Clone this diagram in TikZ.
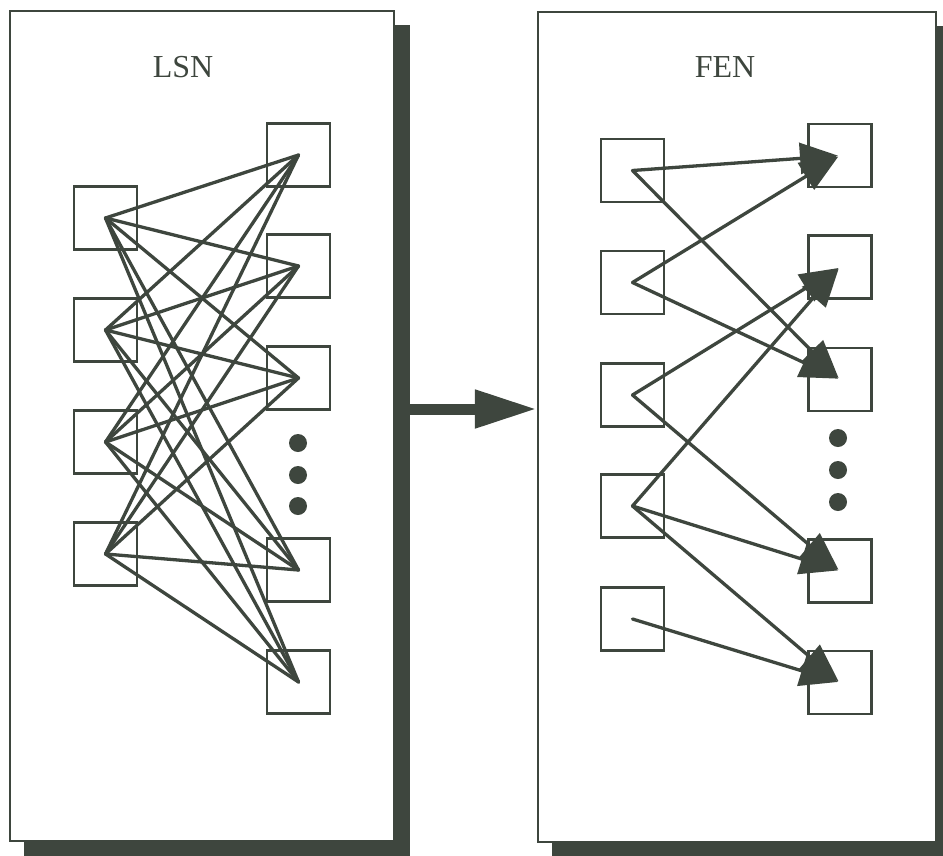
\documentclass[tikz,border=0pt]{standalone}
\usepackage{fontspec}
\setmainfont{Liberation Serif}
\usetikzlibrary{arrows.meta}
\definecolor{ink}{RGB}{62,70,62}
\begin{document}
\begin{tikzpicture}[x=1pt,y=-1pt,
  panel/.style={draw=ink,line width=2.2pt,fill=white,minimum width=#1,
    minimum height=830pt,inner sep=0pt},
  panelshadow/.style={fill=ink,minimum width=#1,minimum height=832pt,inner sep=0pt},
  title/.style={text=ink,font=\fontsize{32}{32}\selectfont,inner sep=0pt},
  cell/.style={draw=ink,line width=2.4pt,minimum size=63pt,inner sep=0pt},
  dot/.style={fill=ink,circle,minimum size=18pt,inner sep=0pt},
  link/.style={draw=ink,line width=3.3pt,line cap=round,line join=round},
  flow/.style={link,shorten >=2pt,-{Triangle[length=38pt,width=31pt]}},
  bigarrow/.style={draw=ink,line width=11pt,-{Triangle[length=62pt,width=36pt]}}
]
\useasboundingbox (0,0) rectangle (943,855);

% panels with their offset shadows
\node[panelshadow=386pt] (lsnshadow) at (217,441) {};
\node[panel=384pt] (lsnpanel) at (202,426) {};
\node[panelshadow=400pt] (fenshadow) at (752,442) {};
\node[panel=398pt] (fenpanel) at (737,427) {};

\node[title] (lsntitle) at (183,67) {LSN};
\node[title] (fentitle) at (725,67) {FEN};

% LSN: four sources fully connected to five targets
\foreach \i/\y in {1/218,2/330,3/442,4/554}
  \node[cell] (ls\i) at (105.5,\y) {};
\foreach \j/\y in {1/155,2/266,3/378,4/570,5/682}
  \node[cell] (lt\j) at (298.5,\y) {};
\foreach \y [count=\k] in {443,475,506}
  \node[dot] (ldot\k) at (298,\y) {};
\foreach \i in {1,...,4}
  \foreach \j in {1,...,5}
    \draw[link] (ls\i.center) -- (lt\j.center);

% FEN: sparse directed connections
\foreach \i/\y in {1/170.5,2/282.5,3/395,4/506,5/619}
  \node[cell] (fs\i) at (632.5,\y) {};
\foreach \j/\y in {1/155.5,2/267,3/379.5,4/571,5/682.5}
  \node[cell] (ft\j) at (840,\y) {};
\foreach \y [count=\k] in {438,470,502}
  \node[dot] (fdot\k) at (838,\y) {};
\foreach \a/\b in {1/1,1/3,2/1,2/3,3/2,3/4,4/2,4/4,4/5,5/5}
  \draw[flow] (fs\a.center) -- (ft\b.center);

% transformation arrow between the panels
\coordinate (arrowrow) at (0,409);
\draw[bigarrow] (lsnshadow.east |- arrowrow) -- (fenpanel.west |- arrowrow);
\end{tikzpicture}
\end{document}
